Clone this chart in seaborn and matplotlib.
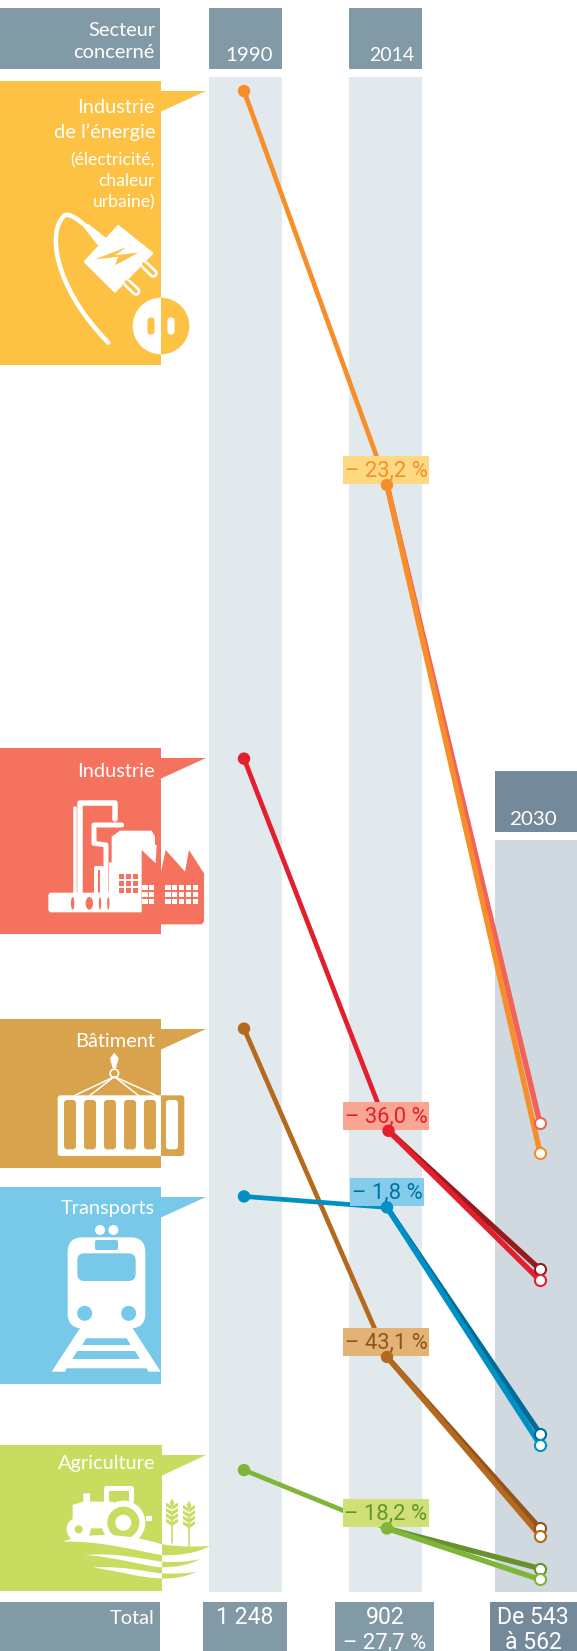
import matplotlib
matplotlib.use("Agg")
import matplotlib.pyplot as plt
import pandas as pd
import seaborn as sns
from matplotlib.patches import Circle, Ellipse, FancyBboxPatch, PathPatch, Polygon, Rectangle
from matplotlib.path import Path
from matplotlib.transforms import Affine2D

# Emissions by sector
sectors = ["Énergie", "Industrie", "Bâtiment", "Transports", "Agriculture"]
emissions_1990 = [466, 283, 209, 163, 88]
emissions_2014 = [358, 181, 119, 160, 72]
emissions_2030_high = [183, 143, 72, 98, 61]
emissions_2030_low = [175, 140, 70, 95, 58]
change_labels = ["– 23,2 %", "– 36,0 %", "– 43,1 %", "– 1,8 %", "– 18,2 %"]

# Colours
line_colors = ["#F78E2A", "#E31F2E", "#B5691E", "#0090C4", "#7FB539"]
high_colors = ["#F0625A", "#941B1E", "#93531C", "#006C97", "#68902D"]
badge_colors = ["#FFD981", "#F9A594", "#E2B374", "#85CBEB", "#CFE076"]
badge_text_colors = ["#F78E2A", "#E31F2E", "#8E551E", "#0072A0", "#65952F"]
panel_colors = ["#FDC144", "#F5725F", "#D9A34E", "#78C9E9", "#C8DD60"]
HEAD = "#8299A6"
HEAD_DARK = "#74899A"
COL_LIGHT = "#E2E9ED"
COL_DARK = "#D0D9DF"

W, H = 577, 1651
YEAR_X = {"1990": 244, "2014": 387, "2030": 540}
SECTOR_SHIFT_2014 = [0, 1.5, 0, 0, 0]

sns.set_theme(style="white")
TITLE_FONT = ["Lato", "DejaVu Sans"]
NUM_FONT = ["Roboto", "DejaVu Sans"]

fig = plt.figure(figsize=(W / 100, H / 100), dpi=100)
ax = fig.add_axes([0, 0, 1, 1])
ax.set_xlim(0, W)
ax.set_ylim(38.4, 490.95)

# Page coordinates: pixels from the top-left corner of the figure
px = Affine2D().scale(1 / W, -1 / H).translate(0, 1) + fig.transFigure


def put(p, z=1, clip=None):
    p.set_transform(px)
    p.set_zorder(z)
    ax.add_patch(p)
    if clip is not None:
        p.set_clip_path(Rectangle((clip[0], 0), clip[1] - clip[0], H, transform=px))
    return p


def rect(x0, y0, x1, y1, color, z=1, clip=None):
    return put(Rectangle((x0, y0), x1 - x0, y1 - y0, fc=color, ec="none", lw=0), z, clip)


def rrect(x0, y0, x1, y1, r, color, z=1, clip=None):
    return put(FancyBboxPatch((x0 + r, y0 + r), x1 - x0 - 2 * r, y1 - y0 - 2 * r,
                              boxstyle=f"round,pad={r},rounding_size={r}",
                              fc=color, ec="none", lw=0), z, clip)


def poly(points, color, z=1, clip=None):
    return put(Polygon(points, closed=True, fc=color, ec="none", lw=0), z, clip)


def disc(x, y, r, color, z=1, clip=None):
    return put(Circle((x, y), r, fc=color, ec="none", lw=0), z, clip)


def stroke(points, color, width, z=1, clip=None, curve=False):
    if curve:
        codes = [Path.MOVETO] + [Path.CURVE4] * (len(points) - 1)
    else:
        codes = [Path.MOVETO] + [Path.LINETO] * (len(points) - 1)
    return put(PathPatch(Path(points, codes), fc="none", ec=color, lw=width * 0.72,
                         capstyle="round", joinstyle="round"), z, clip)


def blob(points, color, z=1, clip=None):
    codes = [Path.MOVETO] + [Path.CURVE4] * (len(points) - 1)
    return put(PathPatch(Path(points, codes), fc=color, ec="none", lw=0), z, clip)


def label(x, y, s, size=20, color="white", ha="right", font=TITLE_FONT, weight="normal", z=8):
    ax.text(x, y, s, transform=px, ha=ha, va="baseline", fontsize=size * 0.72,
            color=color, family=font, fontweight=weight, zorder=z, clip_on=False)


# Column backgrounds and header boxes
rect(0, 8, 160, 69, HEAD)
rect(209, 8, 282, 69, HEAD)
rect(349, 8, 422, 69, HEAD)
rect(495, 771, W, 832, HEAD_DARK)
rect(209, 77, 282, 1592, COL_LIGHT)
rect(349, 77, 422, 1592, COL_LIGHT)
rect(495, 840, W, 1592, COL_DARK)
rect(0, 1602, 160, H, HEAD)
rect(203, 1602, 287, H, HEAD)
rect(335, 1602, 434, H, HEAD)
rect(490, 1602, W, H, HEAD_DARK)

label(155, 36, "Secteur")
label(155, 58, "concerné")
label(249, 61, "1990", ha="center", size=20.5)
label(392, 61, "2014", ha="center", size=19.5)
label(533, 825, "2030", ha="center", size=20.5)
label(155, 1624, "Total")
label(245, 1624, "1 248", ha="center", size=23, font=NUM_FONT)
label(385, 1624, "902", ha="center", size=23, font=NUM_FONT)
label(385, 1648, "– 27,7 %", ha="center", size=22, font=NUM_FONT)
label(533, 1624, "De 543", ha="center", size=23, font=NUM_FONT)
label(533, 1649, "à 562", ha="center", size=23, font=NUM_FONT)

# Sector panels with their pointers
panel_spans = [(81, 365, 161), (748, 934, 161), (1019, 1168, 161), (1187, 1384, 161), (1445, 1591, 162)]
pointer_tops = [91, 758, 1029, 1197, 1455]
for (top, bottom, right), tip, colour in zip(panel_spans, pointer_tops, panel_colors):
    rect(0, top, right, bottom, colour)
    poly([(right - 1, tip), (206, tip), (right - 1, tip + 21)], colour)

label(155, 113, "Industrie")
label(155, 138, "de l’énergie")
label(155, 165, "(électricité,", size=17.5)
label(155, 186, "chaleur", size=17.5)
label(155, 207, "urbaine)", size=17.5)
label(155, 777, "Industrie")
label(155, 1047, "Bâtiment")
label(155, 1214, "Transports")
label(155, 1469, "Agriculture")

# --- Icons (drawn twice where they straddle a panel edge) ---
LEFT, RIGHT = (0, 161), (161, W)
SOCKET = panel_colors[0]

# Plug
def zp(*pts, oy=0):
    return [(x / 3, oy + y / 3) for x, y in pts]

stroke(zp((335, 735), (250, 680), (225, 640), (195, 645), (140, 690), (160, 860), (325, 1028)),
       "white", 4.5, z=2, curve=True)
poly(zp((250, 680), (265, 672), (320, 715), (300, 745)), "white", z=2)
stroke(zp((355, 680), (455, 760), (345, 873), (256, 785), (355, 680)), "white", 3, z=2)
poly(zp((355, 680), (455, 760), (345, 873), (256, 785)), "white", z=2)
poly(zp((285, 778), (378, 742), (345, 766), (415, 758), (345, 796), (355, 770)), SOCKET, z=3)
for a, b in [((437, 798), (460, 820)), ((385, 852), (408, 874))]:
    stroke(zp(a, b), "white", 9, z=2)
    stroke(zp((a[0] - 6, a[1] - 6), b), SOCKET, 3.5, z=3)
for fg, bg, span in [("white", SOCKET, LEFT), (SOCKET, "white", RIGHT)]:
    disc(161, 326, 28.3, fg, z=2, clip=span)
    rrect(147.5, 317.5, 154.5, 334.5, 3.4, bg, z=3, clip=span)
    rrect(167.5, 317.5, 174.5, 334.5, 3.4, bg, z=3, clip=span)

# Factory
FC = panel_colors[1]
zf = lambda *pts: zp(*pts, oy=730)
poly(zf((483, 425), (497, 360), (555, 425), (567, 360), (612, 430), (612, 575), (605, 583), (483, 583)), FC, z=2)
poly(zf((145, 495), (150, 488), (335, 488), (335, 320), (360, 302), (455, 302), (465, 320), (465, 345),
        (470, 345), (467, 400), (425, 360), (425, 547), (150, 547), (145, 540)), "white", z=2)
stroke(zf((240, 490), (240, 218), (345, 218), (345, 268)), "white", 5.5, z=2)
stroke(zf((226, 235), (226, 490)), "white", 3.5, z=2)
stroke(zf((365, 285), (282, 285), (282, 340), (318, 345), (318, 490)), "white", 5, z=2)
stroke(zf((288, 490), (288, 415), (305, 415), (305, 490)), "white", 4, z=2)
stroke(zf((330, 400), (330, 490)), "white", 3, z=2)
for cx, w_ in [(218, 10), (268, 22), (300, 7), (325, 7)]:
    put(Ellipse((cx / 3, 730 + 520 / 3), w_ / 3, 38 / 3, fc=FC, ec="none", lw=0), z=3)
for col in range(3):
    for row in range(3):
        x0 = 358 + col * 20
        y0 = 433 + row * 20
        rect(x0 / 3, 730 + y0 / 3, (x0 + 15) / 3, 730 + (y0 + 15) / 3, FC, z=3)
for xs, count in [(427, 2), (496, 5)]:
    for col in range(count):
        for row in range(3):
            x0 = xs + col * 20.5
            y0 = 466 + row * 20
            rect(x0 / 3, 730 + y0 / 3, (x0 + 15.5) / 3, 730 + (y0 + 15.5) / 3, "white", z=3)

# Container hanging from a crane hook
BC = panel_colors[2]
zb = lambda *pts: zp(*pts, oy=730)
for fg, bg, span in [("white", BC, LEFT), (BC, "white", RIGHT)]:
    rrect(173 / 3, 730 + 1096 / 3, 553 / 3, 730 + 1278 / 3, 3, fg, z=2, clip=span)
    for sx in (192, 252, 312, 372, 432, 498):
        rrect(sx / 3, 730 + 1110 / 3, (sx + 36) / 3, 730 + 1258 / 3, 3.5, bg, z=3, clip=span)
for end in (225, 270, 415, 468):
    stroke(zb((343, 1040), (end, 1096)), "white", 1.5, z=2)
poly(zb((330, 985), (343, 968), (356, 985), (348, 1015), (338, 1015)), "white", z=2)
put(Circle((343 / 3, 730 + 1030 / 3), 4.2, fc="none", ec="white", lw=1.2), z=2)

# Train
TC = panel_colors[3]
zt = lambda *pts: zp(*pts, oy=1170)
rrect(203 / 3, 1170 + 202 / 3, 436 / 3, 1170 + 475 / 3, 15, "white", z=2)
rrect(232 / 3, 1170 + 250 / 3, 407 / 3, 1170 + 333 / 3, 7, TC, z=3)
rrect(285 / 3, 1170 + 210 / 3, 354 / 3, 1170 + 240 / 3, 2, TC, z=3)
disc(300 / 3, 1170 + 180 / 3, 5, "white", z=2)
disc(340 / 3, 1170 + 180 / 3, 5, "white", z=2)
disc(254 / 3, 1170 + 430 / 3, 7.5, TC, z=3)
disc(386 / 3, 1170 + 430 / 3, 7.5, TC, z=3)
poly(zt((243, 470), (155, 605), (195, 605), (200, 595), (440, 595), (445, 605), (482, 605), (395, 470)), "white", z=2)
poly(zt((258, 505), (380, 505), (392, 525), (247, 525)), TC, z=3)
poly(zt((232, 543), (405, 543), (420, 567), (217, 567)), TC, z=3)

# Tractor, wheat and furrows
AC = panel_colors[4]
za = lambda *pts: zp(*pts, oy=1170)
poly(za((218, 1075), (218, 1005), (250, 995), (250, 970), (270, 970), (270, 995), (340, 995), (340, 1075)), "white", z=2)
stroke(za((318, 1005), (318, 955), (392, 955), (392, 990)), "white", 5, z=2)
disc(370 / 3, 1170 + 1058 / 3, 22, "white", z=3)
disc(370 / 3, 1170 + 1058 / 3, 16, AC, z=3)
disc(370 / 3, 1170 + 1058 / 3, 8, "white", z=3)
disc(236 / 3, 1170 + 1078 / 3, 12, "white", z=3)
disc(236 / 3, 1170 + 1078 / 3, 4, AC, z=3)
rect(438 / 3, 1170 + 1038 / 3, 456 / 3, 1170 + 1052 / 3, "white", z=2)
furrows = [
    ((190, 1115), (260, 1085), (380, 1090), (483, 1122), (540, 1132), (590, 1130), (630, 1128),
     (590, 1150), (530, 1158), (483, 1155), (400, 1140), (300, 1112), (190, 1115)),
    ((255, 1155), (350, 1148), (420, 1165), (483, 1175), (530, 1178), (570, 1175), (600, 1167),
     (570, 1185), (525, 1192), (483, 1192), (420, 1185), (340, 1160), (255, 1155)),
    ((280, 1192), (380, 1188), (430, 1205), (483, 1210), (530, 1212), (565, 1210), (590, 1205),
     (560, 1220), (520, 1228), (483, 1225), (430, 1225), (360, 1205), (280, 1192)),
]
for fg, span in [("white", (0, 162)), (AC, (162, W))]:
    for wave in furrows:
        blob(za(*wave), fg, z=4, clip=span)
for cx, top in [(516, 985), (567, 992)]:
    stroke(za((cx, top + 40), (cx, top + 135)), AC, 1.6, z=2)
    poly(za((cx, top), (cx + 7, top + 14), (cx, top + 28), (cx - 7, top + 14)), AC, z=2)
    for k in range(4):
        yy = top + 17 + k * 16
        for side in (-1, 1):
            poly(za((cx + side, yy + 18), (cx + side * 18, yy + 6), (cx + side * 18, yy - 4), (cx + side, yy + 6)), AC, z=2)

# Long-form tables for the slope lines
x_2014 = [YEAR_X["2014"] + s for s in SECTOR_SHIFT_2014]
history = pd.DataFrame({
    "sector": sectors * 2,
    "x": [YEAR_X["1990"]] * 5 + x_2014,
    "value": emissions_1990 + emissions_2014,
})
history_palette = dict(zip(sectors, line_colors))

# 1990 to 2014, running under the percentage badges
sns.lineplot(data=history, x="x", y="value", hue="sector", palette=history_palette,
             estimator=None, sort=False, linewidth=3.4, legend=False, ax=ax, zorder=2)

for i, sector in enumerate(sectors):
    for values, colours in [(emissions_2030_high, high_colors), (emissions_2030_low, line_colors)]:
        segment = pd.DataFrame({"x": [x_2014[i], YEAR_X["2030"]], "value": [emissions_2014[i], values[i]]})
        sns.lineplot(data=segment, x="x", y="value", color=colours[i], estimator=None, sort=False,
                     linewidth=3.9, legend=False, ax=ax, zorder=4)
        sns.scatterplot(data=segment.iloc[[1]], x="x", y="value", color="white", edgecolor=colours[i],
                        s=64, linewidth=1.5, legend=False, ax=ax, zorder=5, clip_on=False)

sns.scatterplot(data=history, x="x", y="value", hue="sector", palette=history_palette,
                s=80, linewidth=0, legend=False, ax=ax, zorder=6)

# Percentage badges above the 2014 points
badge_spans = [(343, 429), (343, 429), (343, 429), (350, 424), (343, 429)]
for i, text in enumerate(change_labels):
    y_mark = ax.transData.transform((0, emissions_2014[i]))[1]
    y_top = H - y_mark
    x0, x1 = badge_spans[i]
    bottom = round(y_top) - 1
    rect(x0, bottom - 27.5, x1, bottom, badge_colors[i], z=3)
    label((x0 + x1) / 2, bottom - 7.5, text, size=22, color=badge_text_colors[i], ha="center",
          font=NUM_FONT, z=7)

ax.axis("off")
fig.savefig("out.png", dpi=100)
